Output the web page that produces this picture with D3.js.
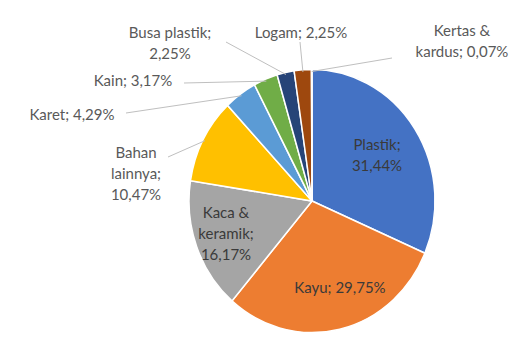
<!DOCTYPE html>
<html>
<head>
<meta charset="utf-8">
<script src="https://cdn.jsdelivr.net/npm/d3@7"></script>
<style>
  body { margin: 0; background: #fff; }
  text { font-family: Lato, "Open Sans", sans-serif; }
</style>
</head>
<body>
<div id="chart"></div>
<script>
// data (percent)
var names = ["Plastik", "Kayu", "Kaca & keramik", "Bahan lainnya", "Karet", "Kain", "Busa plastik", "Logam", "Kertas & kardus"];
var values = [31.44, 29.75, 16.17, 10.47, 4.29, 3.17, 2.25, 2.25, 0.07];
var labels = ["31,44%", "29,75%", "16,17%", "10,47%", "4,29%", "3,17%", "2,25%", "2,25%", "0,07%"];
var colors = ["#4472C4", "#ED7D31", "#A5A5A5", "#FFC000", "#5B9BD5", "#70AD47", "#264478", "#9E480E", "#636363"];

var width = 521, height = 338;
var cx = 312, cy = 201, r = 123, sy = 1.07;

var svg = d3.select("#chart").append("svg")
    .attr("width", width)
    .attr("height", height);

var pie = d3.pie().sort(null).value(function(d){ return d; });
var arcs = pie(values);
var arc = d3.arc().innerRadius(0).outerRadius(r);
var edge = d3.arc().innerRadius(r - 2).outerRadius(r - 2);

var g = svg.append("g")
    .attr("transform", "translate(" + cx + "," + cy + ") scale(1," + sy + ")");

g.selectAll("path")
    .data(arcs)
    .enter()
    .append("path")
    .attr("d", arc)
    .attr("fill", function(d, i){ return colors[i]; })
    .attr("stroke", "#fff")
    .attr("stroke-width", 1.5);

// label layout: lines, anchor position, and where the leader starts (null = inside)
var layout = [
    {lines: ["Plastik;", labels[0]], x: 377, y: 145, lead: null, fill: "#3a3a3a"},
    {lines: ["Kayu; " + labels[1]], x: 340, y: 288, lead: null, fill: "#3a3a3a"},
    {lines: ["Kaca &", "keramik;", labels[2]], x: 226, y: 213, lead: null, fill: "#3a3a3a"},
    {lines: ["Bahan", "lainnya;", labels[3]], x: 136, y: 153, lead: [168, 157], fill: "#595959"},
    {lines: ["Karet; " + labels[4]], x: 72, y: 115, lead: [126, 113], fill: "#595959"},
    {lines: ["Kain; " + labels[5]], x: 133, y: 81, lead: [184, 83], fill: "#595959"},
    {lines: ["Busa plastik;", labels[6]], x: 170, y: 33, lead: [226, 42], fill: "#595959"},
    {lines: ["Logam; " + labels[7]], x: 301, y: 33, lead: [300, 42], fill: "#595959"},
    {lines: ["Kertas &", "kardus; " + labels[8]], x: 462, y: 31, lead: [392, 58], fill: "#595959"}
];

var lh = 21;

// leader lines
layout.forEach(function(L, i){
    if (!L.lead) return;
    var p = edge.centroid(arcs[i]);
    var ex = cx + p[0], ey = cy + p[1] * sy;
    svg.append("line")
        .attr("x1", L.lead[0]).attr("y1", L.lead[1])
        .attr("x2", ex).attr("y2", ey)
        .attr("stroke", "#bfbfbf")
        .attr("stroke-width", 1);
});

layout.forEach(function(L){
    var t = svg.append("text")
        .attr("text-anchor", "middle")
        .attr("font-size", 15)
        .attr("fill", L.fill);
    L.lines.forEach(function(s, k){
        t.append("tspan")
            .attr("x", L.x)
            .attr("y", L.y + k * lh)
            .attr("dy", "0.35em")
            .text(s);
    });
});
</script>
</body>
</html>
